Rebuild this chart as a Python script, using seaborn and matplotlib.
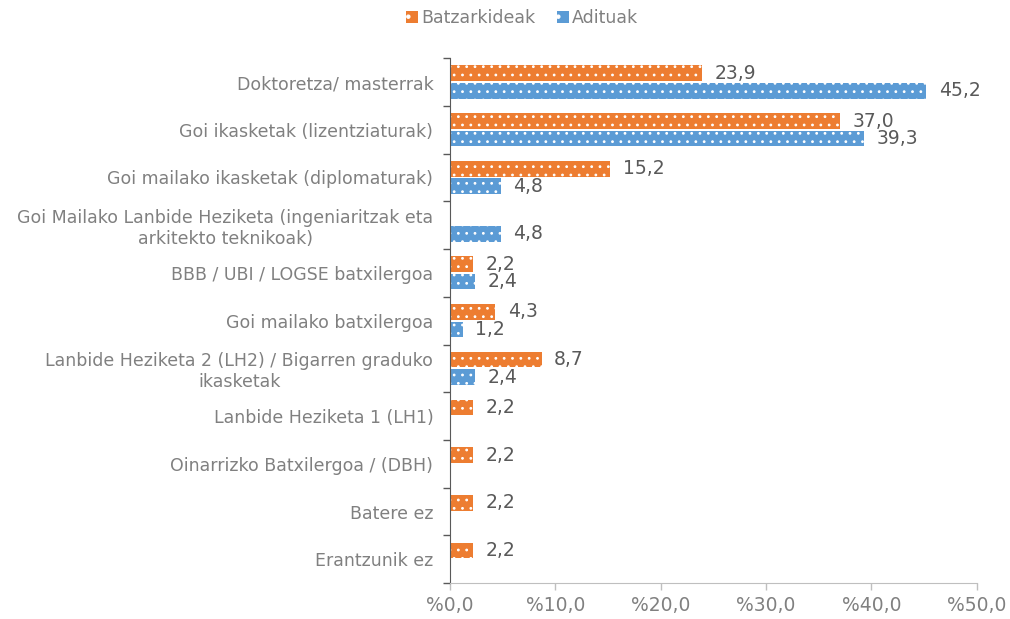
import numpy as np
import pandas as pd
import seaborn as sns
import matplotlib.pyplot as plt
from matplotlib.ticker import FixedLocator, FuncFormatter

# Data
categories = [
    "Doktoretza/ masterrak",
    "Goi ikasketak (lizentziaturak)",
    "Goi mailako ikasketak (diplomaturak)",
    "Goi Mailako Lanbide Heziketa (ingeniaritzak eta\narkitekto teknikoak)",
    "BBB / UBI / LOGSE batxilergoa",
    "Goi mailako batxilergoa",
    "Lanbide Heziketa 2 (LH2) / Bigarren graduko\nikasketak",
    "Lanbide Heziketa 1 (LH1)",
    "Oinarrizko Batxilergoa / (DBH)",
    "Batere ez",
    "Erantzunik ez",
]
batzarkideak = [23.9, 37.0, 15.2, np.nan, 2.2, 4.3, 8.7, 2.2, 2.2, 2.2, 2.2]
adituak = [45.2, 39.3, 4.8, 4.8, 2.4, 1.2, 2.4, np.nan, np.nan, np.nan, np.nan]
series = ["Batzarkideak", "Adituak"]
colors = ["#ED7D31", "#5B9BD5"]

df = pd.DataFrame({
    "kategoria": categories * 2,
    "taldea": [series[0]] * len(categories) + [series[1]] * len(categories),
    "balioa": batzarkideak + adituak,
}).dropna()

sns.set_style("white")
plt.rcParams["font.family"] = ["DejaVu Sans"]
plt.rcParams["hatch.linewidth"] = 0.8

label_grey = "#808080"
value_grey = "#595959"

fig = plt.figure(figsize=(10.1, 6.19), dpi=100)
ax = fig.add_axes([0.4455, 0.058, 0.5215, 0.848])

sns.barplot(data=df, y="kategoria", x="balioa", hue="taldea",
            order=categories, hue_order=series, palette=colors, saturation=1,
            orient="h", width=0.73, gap=0.1, legend=False, ax=ax)

# dotted fill + value labels
for cont in ax.containers:
    for bar in cont:
        bar.set_hatch("..")
        bar.set_edgecolor("white")
        bar.set_linewidth(0)
    labels = [f"{v:.1f}".replace(".", ",") for v in cont.datavalues]
    ax.bar_label(cont, labels=labels, padding=9, fontsize=13.5, color=value_grey)

ax.set_xlim(0, 50)
ax.set_ylim(len(categories) - 0.5, -0.5)
ax.set_xticks(range(0, 51, 10))
ax.xaxis.set_major_formatter(FuncFormatter(lambda v, p: f"%{v:.1f}".replace(".", ",")))
ax.yaxis.set_minor_locator(FixedLocator(np.arange(-0.5, len(categories), 1)))
ax.tick_params(axis="y", which="major", length=0, pad=12, labelsize=12.5, labelcolor=label_grey)
ax.tick_params(axis="y", which="minor", length=5, width=1, color="#595959", direction="out", left=True)
ax.tick_params(axis="x", length=5, width=1, color="#BFBFBF", direction="out", bottom=True,
               labelsize=13.5, labelcolor=label_grey, pad=4)
for lab in ax.get_yticklabels():
    lab.set_horizontalalignment("right")
    lab.set_multialignment("center")

ax.set_xlabel("")
ax.set_ylabel("")
for s in ["top", "right"]:
    ax.spines[s].set_visible(False)
ax.spines["left"].set_color("#595959")
ax.spines["bottom"].set_color("#BFBFBF")

handles = [plt.Rectangle((0, 0), 1, 1, facecolor=c, edgecolor="white", hatch=".", linewidth=0)
           for c in colors]
fig.legend(handles, series, loc="upper center", bbox_to_anchor=(0.517, 1.01), ncol=2,
           frameon=False, fontsize=12.5, labelcolor=label_grey, handlelength=0.7,
           handleheight=0.7, handletextpad=0.2, columnspacing=1.2)

fig.savefig("out.png", dpi=100)
